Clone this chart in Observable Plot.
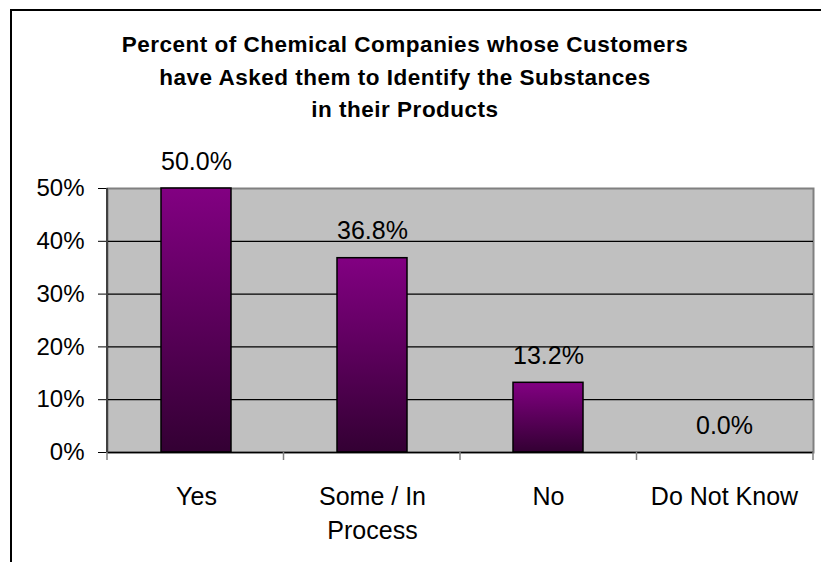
<!DOCTYPE html>
<html><head><meta charset="utf-8">
<script src="https://cdn.jsdelivr.net/npm/d3@7"></script>
<script src="https://cdn.jsdelivr.net/npm/@observablehq/plot@0.6"></script>
<style>
body{margin:0;background:#fff;}
#wrap{position:relative;width:821px;height:562px;overflow:hidden;font-family:"Liberation Sans",Arial,sans-serif;}
#frame{position:absolute;left:10px;top:9px;width:900px;height:700px;border-left:2px solid #000;border-top:2px solid #000;}
#title{position:relative;height:140px;box-sizing:border-box;padding-top:29px;margin-left:12px;width:786px;text-align:center;font-weight:bold;font-size:22.5px;letter-spacing:0.5px;line-height:32.5px;color:#000;}
#chart{position:relative;}
</style></head>
<body><div id="wrap"><div id="frame"></div><div id="title"></div><div id="chart"></div></div>
<script>
const titleLines = [
  "Percent of Chemical Companies whose Customers",
  "have Asked them to Identify the Substances",
  "in their Products"
];
const categories = ["Yes", "Some / In\nProcess", "No", "Do Not Know"];
const values = [0.5, 0.368, 0.132, 0.0];
const valueLabels = ["50.0%", "36.8%", "13.2%", "0.0%"];
const yTicks = [0, 0.1, 0.2, 0.3, 0.4, 0.5];

const data = categories.map((c, i) => ({cat: c, value: values[i], label: valueLabels[i]}));

document.getElementById("title").innerHTML = titleLines.join("<br>");

const defsMark = () => {
  const ns = "http://www.w3.org/2000/svg";
  const defs = document.createElementNS(ns, "defs");
  const g = document.createElementNS(ns, "linearGradient");
  g.setAttribute("id", "barGrad");
  g.setAttribute("x1", "0"); g.setAttribute("y1", "0");
  g.setAttribute("x2", "0"); g.setAttribute("y2", "1");
  [["0%", "#820082"], ["100%", "#330033"]].forEach(([o, c]) => {
    const s = document.createElementNS(ns, "stop");
    s.setAttribute("offset", o); s.setAttribute("stop-color", c);
    g.appendChild(s);
  });
  defs.appendChild(g);
  return defs;
};

const axisLinesMark = (index, scales, values, dims) => {
  const ns = "http://www.w3.org/2000/svg";
  const grp = document.createElementNS(ns, "g");
  const {width, height, marginLeft, marginRight, marginTop, marginBottom} = dims;
  const n = categories.length;
  const step = (width - marginLeft - marginRight) / n;
  const bottom = height - marginBottom;
  for (let i = 0; i <= n; i++) {
    const l = document.createElementNS(ns, "line");
    const xx = marginLeft + i * step;
    l.setAttribute("x1", xx); l.setAttribute("x2", xx);
    l.setAttribute("y1", bottom); l.setAttribute("y2", bottom + 8);
    l.setAttribute("stroke", "#808080"); l.setAttribute("stroke-width", "1.5");
    grp.appendChild(l);
  }
  const ax = document.createElementNS(ns, "line");
  ax.setAttribute("x1", marginLeft); ax.setAttribute("x2", marginLeft);
  ax.setAttribute("y1", marginTop); ax.setAttribute("y2", bottom);
  ax.setAttribute("stroke", "#404040"); ax.setAttribute("stroke-width", "2");
  grp.appendChild(ax);
  return grp;
};

const chart = Plot.plot({
  width: 821,
  height: 422,
  marginTop: 48,
  marginBottom: 110,
  marginLeft: 107,
  marginRight: 8,
  style: {fontFamily: "'Liberation Sans', Arial, sans-serif", fontSize: "24px", color: "#000", background: "transparent", overflow: "visible"},
  x: {type: "band", domain: categories, paddingInner: 0.6, paddingOuter: 0.3, axis: null},
  y: {domain: [0, 0.5], ticks: yTicks, tickFormat: d3.format(".0%"), tickSize: 9, tickPadding: 14, label: null},
  marks: [
    defsMark,
    Plot.frame({fill: "#C0C0C0", stroke: "#808080", strokeWidth: 2}),
    Plot.ruleY(yTicks.filter(d => d > 0 && d < 0.5), {stroke: "#000", strokeWidth: 1.2}),
    Plot.barY(data, {x: "cat", y: "value", fill: "url(#barGrad)", stroke: "#000", strokeWidth: 1.5}),
    Plot.ruleY([0], {stroke: "#000", strokeWidth: 1.5}),
    axisLinesMark,
    Plot.text(data, {x: "cat", y: "value", text: "label", dy: -27, lineAnchor: "middle", fontSize: 25, fill: "#000"}),
    Plot.text(categories, {x: d => d, frameAnchor: "bottom", lineAnchor: "top", dy: 28, lineHeight: 1.36, fontSize: 25, fill: "#000"})
  ]
});
document.getElementById("chart").appendChild(chart);
</script>
</body></html>
